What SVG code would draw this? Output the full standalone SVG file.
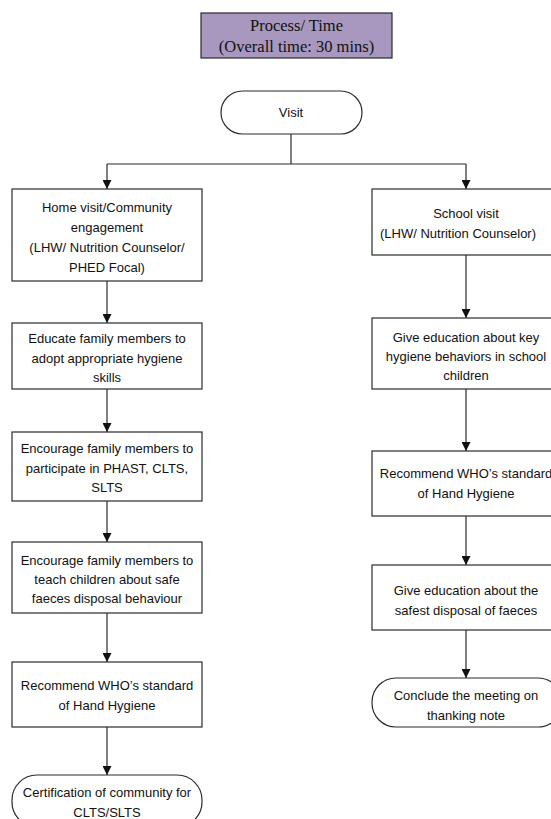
<svg xmlns="http://www.w3.org/2000/svg" width="551" height="819" viewBox="0 0 551 819">
<style>
.box{fill:#fff;stroke:#2b2b2b;stroke-width:1.2}
.t{font-family:"Liberation Sans",Arial,sans-serif;font-size:13px;fill:#111;text-anchor:middle}
.ttl{font-family:"Liberation Serif","Times New Roman",serif;font-size:16.5px;fill:#111;text-anchor:middle}
.ln{fill:none;stroke:#2b2b2b;stroke-width:1.2}
</style>
<defs>
<marker id="ah" markerWidth="9" markerHeight="9" refX="9" refY="4.5" orient="auto" markerUnits="userSpaceOnUse">
<path d="M0,0 L9,4.5 L0,9 z" fill="#111"/>
</marker>
</defs>
<rect width="551" height="819" fill="#fff"/>
<g id="connectors">
<path class="ln" d="M291,134 V164"/>
<path class="ln" d="M107,164 H466"/>
<path class="ln" d="M107,164 V189" marker-end="url(#ah)"/>
<path class="ln" d="M466,164 V189" marker-end="url(#ah)"/>
<path class="ln" d="M107,281 V323" marker-end="url(#ah)"/>
<path class="ln" d="M107,389 V432" marker-end="url(#ah)"/>
<path class="ln" d="M107,501 V542" marker-end="url(#ah)"/>
<path class="ln" d="M107,613 V662" marker-end="url(#ah)"/>
<path class="ln" d="M107,727 V775" marker-end="url(#ah)"/>
<path class="ln" d="M466,255 V318" marker-end="url(#ah)"/>
<path class="ln" d="M466,389 V451" marker-end="url(#ah)"/>
<path class="ln" d="M466,516 V565" marker-end="url(#ah)"/>
<path class="ln" d="M466,630 V678" marker-end="url(#ah)"/>
</g>
<g id="title">
<rect x="201" y="13" width="191" height="45" fill="#a898bf" stroke="#2b2b2b" stroke-width="1.2"/>
<text class="ttl" x="296.5" y="31">Process/ Time</text>
<text class="ttl" x="296.5" y="52">(Overall time: 30 mins)</text>
</g>
<g id="visit">
<rect class="box" x="221" y="91" width="141" height="43" rx="21.5"/>
<text class="t" x="291" y="117">Visit</text>
</g>
<g id="home-visit">
<rect class="box" x="12" y="189" width="190" height="92"/>
<text class="t" x="107" y="212">Home visit/Community</text>
<text class="t" x="107" y="232">engagement</text>
<text class="t" x="107" y="252">(LHW/ Nutrition Counselor/</text>
<text class="t" x="107" y="272">PHED Focal)</text>
</g>
<g id="educate">
<rect class="box" x="12" y="323" width="190" height="66"/>
<text class="t" x="107" y="343">Educate family members to</text>
<text class="t" x="107" y="363">adopt appropriate hygiene</text>
<text class="t" x="107" y="382">skills</text>
</g>
<g id="participate">
<rect class="box" x="12" y="432" width="190" height="69"/>
<text class="t" x="107" y="453">Encourage family members to</text>
<text class="t" x="107" y="473">participate in PHAST, CLTS,</text>
<text class="t" x="107" y="492">SLTS</text>
</g>
<g id="teach">
<rect class="box" x="12" y="542" width="190" height="71"/>
<text class="t" x="107" y="565">Encourage family members to</text>
<text class="t" x="107" y="584">teach children about safe</text>
<text class="t" x="107" y="603">faeces disposal behaviour</text>
</g>
<g id="recommend-left">
<rect class="box" x="12" y="662" width="190" height="65"/>
<text class="t" x="107" y="690">Recommend WHO’s standard</text>
<text class="t" x="107" y="710">of Hand Hygiene</text>
</g>
<g id="certification">
<rect class="box" x="12" y="775" width="190" height="52" rx="25"/>
<text class="t" x="107" y="797">Certification of community for</text>
<text class="t" x="107" y="817">CLTS/SLTS</text>
</g>
<g id="school-visit">
<rect class="box" x="372" y="189" width="190" height="66"/>
<text class="t" x="466" y="218">School visit</text>
<text class="t" x="458" y="238">(LHW/ Nutrition Counselor)</text>
</g>
<g id="key-hygiene">
<rect class="box" x="372" y="318" width="190" height="71"/>
<text class="t" x="466" y="342">Give education about key</text>
<text class="t" x="466" y="361">hygiene behaviors in school</text>
<text class="t" x="466" y="380">children</text>
</g>
<g id="recommend-right">
<rect class="box" x="372" y="451" width="190" height="65"/>
<text class="t" x="466" y="478">Recommend WHO’s standard</text>
<text class="t" x="466" y="498">of Hand Hygiene</text>
</g>
<g id="disposal">
<rect class="box" x="372" y="565" width="190" height="65"/>
<text class="t" x="466" y="595">Give education about the</text>
<text class="t" x="466" y="615">safest disposal of faeces</text>
</g>
<g id="conclude">
<rect class="box" x="372" y="678" width="190" height="49" rx="24"/>
<text class="t" x="466" y="700">Conclude the meeting on</text>
<text class="t" x="466" y="720">thanking note</text>
</g>
</svg>
